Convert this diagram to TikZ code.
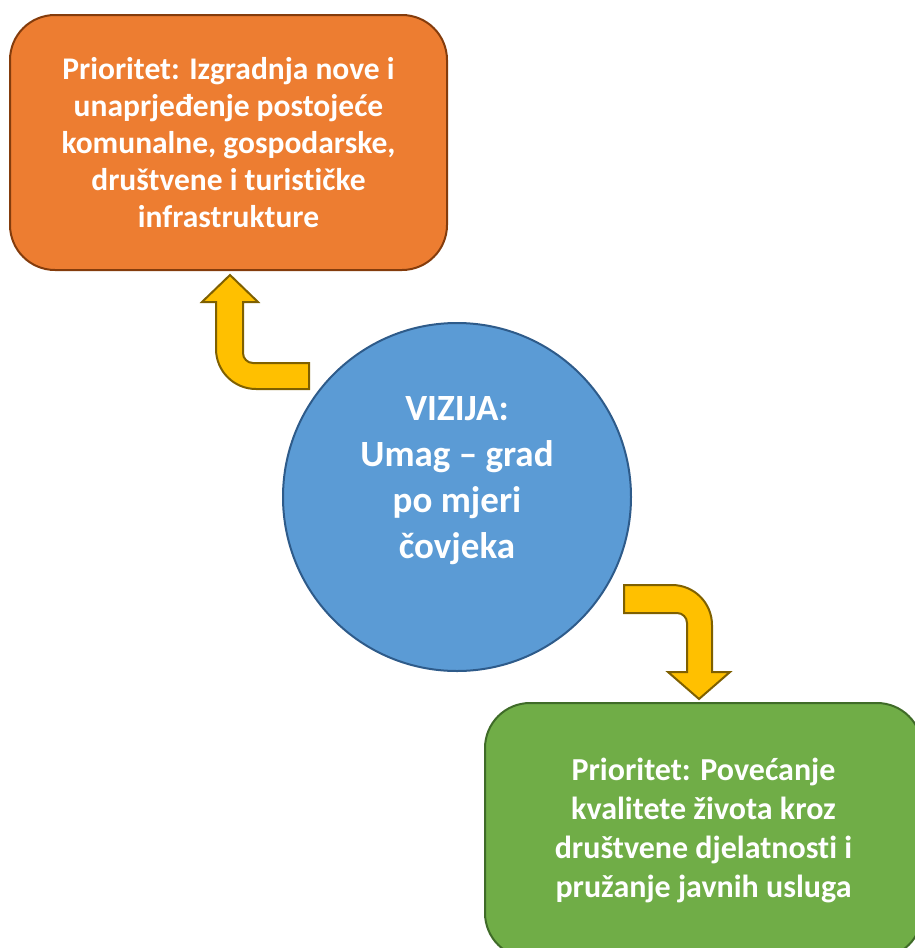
\documentclass[tikz,border=0pt]{standalone}
\usepackage{fontspec}
\setmainfont{Carlito}[Ligatures=NoCommon]
\usepackage{xcolor}
\usepackage{tikz}

\definecolor{narancasta}{HTML}{ED7D31}
\definecolor{narancastarub}{HTML}{843C0C}
\definecolor{zelena}{HTML}{70AD47}
\definecolor{zelenarub}{HTML}{3F6B28}
\definecolor{plava}{HTML}{5B9BD5}
\definecolor{plavarub}{HTML}{2E5B8A}
\definecolor{zuta}{HTML}{FFC000}
\definecolor{zutarub}{HTML}{7F6000}

\tikzset{
    priobox/.style={draw, line width=2pt, rounded corners=45pt,
        minimum width=437pt, minimum height=255pt, align=center,
        text=white, font=\bfseries\fontsize{31.5}{36.8}\selectfont},
    bentarrow/.style={draw=zutarub, fill=zuta, line width=2pt, line join=miter}
}

\begin{document}
\begin{tikzpicture}[x=1pt, y=-1pt]
    \useasboundingbox (0,0) rectangle (915,948);

    \node [priobox, fill=narancasta, draw=narancastarub] (prio1) at (228.5,142.5)
        {Prioritet: Izgradnja nove i\\unaprjeđenje postojeće\\komunalne, gospodarske,\\društvene i turističke\\infrastrukture};

    \node [priobox, fill=zelena, draw=zelenarub, font=\bfseries\fontsize{32}{39}\selectfont]
        (prio2) at (703.5,830.5)
        {Prioritet: Povećanje\\kvalitete života kroz\\društvene djelatnosti i\\pružanje javnih usluga};

    \node [circle, draw=plavarub, fill=plava, line width=2pt, minimum size=348pt] (vizija) at (457,497) {};
    \node [text=white, align=center, font=\bfseries\fontsize{37}{46}\selectfont]
        (vizijatekst) at ([yshift=16pt]vizija.center) {VIZIJA:\\Umag – grad\\po mjeri\\čovjeka};

    % strelica prema gore
    \draw [bentarrow] (309,363) -- (253,363) arc (90:180:10) -- (243,302) -- (258,302)
        -- (230,275) -- (202,302) -- (216,302) -- (216,349) arc (180:90:40) -- (309,389) -- cycle;

    % strelica prema dolje
    \draw [bentarrow] (624,585) -- (672,585) arc (270:360:40) -- (712,672) -- (730,672)
        -- (699,699) -- (668,672) -- (687,672) -- (687,623) arc (0:-90:10) -- (624,613) -- cycle;
\end{tikzpicture}
\end{document}
